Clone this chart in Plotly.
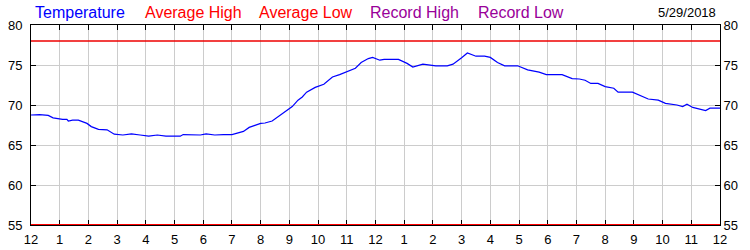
import plotly.graph_objects as go

# ---- data ----
hours = [0, 0.3, 0.6, 0.77, 1.1, 1.25, 1.3, 1.45, 1.65, 1.95, 2.1, 2.35, 2.65, 2.9,
         3.2, 3.5, 3.8, 4.1, 4.4, 4.7, 5.0, 5.2, 5.3, 5.6, 5.9, 6.1, 6.4, 6.7, 7.0,
         7.4, 7.6, 8.0, 8.15, 8.4, 8.7, 8.95, 9.1, 9.3, 9.45, 9.6, 9.9, 10.2, 10.5,
         10.75, 11.1, 11.3, 11.5, 11.75, 11.9, 12.15, 12.3, 12.8, 13.1, 13.3, 13.65,
         13.95, 14.1, 14.5, 14.7, 15.0, 15.2, 15.5, 15.8, 16.0, 16.25, 16.5, 16.95,
         17.3, 17.7, 17.95, 18.5, 18.85, 19.1, 19.3, 19.5, 19.75, 20.0, 20.3, 20.45,
         20.95, 21.2, 21.5, 21.85, 22.1, 22.5, 22.7, 22.85, 23.05, 23.5, 23.65, 24]
temperature = [68.75, 68.8, 68.7, 68.4, 68.2, 68.2, 68.0, 68.1, 68.1, 67.7, 67.3, 66.95, 66.9, 66.35,
               66.25, 66.4, 66.25, 66.1, 66.25, 66.1, 66.1, 66.1, 66.3, 66.25, 66.25, 66.4, 66.25, 66.3, 66.3,
               66.7, 67.2, 67.7, 67.75, 68.0, 68.75, 69.4, 69.8, 70.6, 71.0, 71.6, 72.2, 72.6, 73.5,
               73.8, 74.25, 74.6, 75.3, 75.8, 75.95, 75.6, 75.7, 75.7, 75.2, 74.75, 75.1,
               75.0, 74.9, 74.9, 75.1, 75.9, 76.5, 76.1, 76.1, 75.95, 75.3, 74.9, 74.9,
               74.4, 74.1, 73.8, 73.8, 73.3, 73.25, 73.1, 72.7, 72.7, 72.3, 72.1, 71.6,
               71.6, 71.25, 70.75, 70.6, 70.2, 70.0, 69.8, 70.1, 69.7, 69.3, 69.6, 69.6]
average_high = 78
average_low = 55
hour_ticks = list(range(0, 25))
hour_labels = ["12"] + [str(h) for h in range(1, 12)] + ["12"] + [str(h) for h in range(1, 12)] + ["12"]
temp_ticks = [55, 60, 65, 70, 75, 80]
date_label = "5/29/2018"
legend_items = [("Temperature", "#0000FF"), ("Average High", "#FF0000"),
                ("Average Low", "#FF0000"), ("Record High", "#990099"),
                ("Record Low", "#990099")]

FONT = "Liberation Sans, Arial, sans-serif"
W, H = 750, 250
L, R, T, B = 31, 30, 25, 25
PW, PH = W - L - R, H - T - B

fig = go.Figure()
fig.add_trace(go.Scatter(x=[hours[0], hours[-1]], y=[average_low, average_low], mode="lines",
                         line=dict(color="#FF0000", width=2), hoverinfo="skip"))
fig.add_trace(go.Scatter(x=[hours[0], hours[-1]], y=[average_high, average_high], mode="lines",
                         line=dict(color="#EE0000", width=1.6), hoverinfo="skip"))
fig.add_trace(go.Scatter(x=hours, y=temperature, mode="lines",
                         line=dict(color="#0000FF", width=1.2), hoverinfo="skip"))
# invisible trace to anchor the right-hand temperature axis
fig.add_trace(go.Scatter(x=[hours[0]], y=[average_high], yaxis="y2", mode="none",
                         hoverinfo="skip"))

axis_font = dict(family=FONT, size=13, color="#000000")
fig.update_layout(
    width=W, height=H, margin=dict(l=L, r=R, t=T, b=B, pad=0, autoexpand=False),
    paper_bgcolor="white", plot_bgcolor="white", showlegend=False,
    xaxis=dict(range=[0, 24], tickvals=hour_ticks, ticktext=hour_labels,
               showgrid=True, gridcolor="#CCCCCC", gridwidth=1, zeroline=False,
               showline=True, linecolor="#000000", linewidth=1, mirror="ticks",
               layer="below traces", automargin=False,
               ticks="inside", ticklen=5, tickcolor="#000000",
               tickfont=axis_font, ticklabelstandoff=2, fixedrange=True),
    yaxis=dict(range=[55, 80], tickvals=temp_ticks, showgrid=True, gridcolor="#CCCCCC",
               gridwidth=1, zeroline=False, showline=True, linecolor="#000000",
               linewidth=1, ticks="inside", ticklen=5, tickcolor="#000000",
               automargin=False,
               tickfont=axis_font, ticklabelstandoff=5, fixedrange=True),
    yaxis2=dict(range=[55, 80], overlaying="y", side="right", anchor="x",
                tickvals=temp_ticks, showgrid=False, zeroline=False, showline=True,
                linecolor="#000000", linewidth=1, ticks="inside", ticklen=5,
                automargin=False,
                tickcolor="#000000", tickfont=axis_font, fixedrange=True),
)

legend_x = [33, 143, 257, 368, 476]
for (txt, col), px in zip(legend_items, legend_x):
    fig.add_annotation(text=txt, xref="paper", yref="paper",
                       x=(px - L) / PW, y=(H - B - 13) / PH,
                       xanchor="left", yanchor="middle", showarrow=False,
                       font=dict(family=FONT, size=16, color=col))
fig.add_annotation(text=date_label, xref="paper", yref="paper",
                   x=(718 - L) / PW, y=(H - B - 13) / PH,
                   xanchor="right", yanchor="middle", showarrow=False,
                   font=dict(family=FONT, size=13, color="#000000"))

fig.write_html("out.html")
